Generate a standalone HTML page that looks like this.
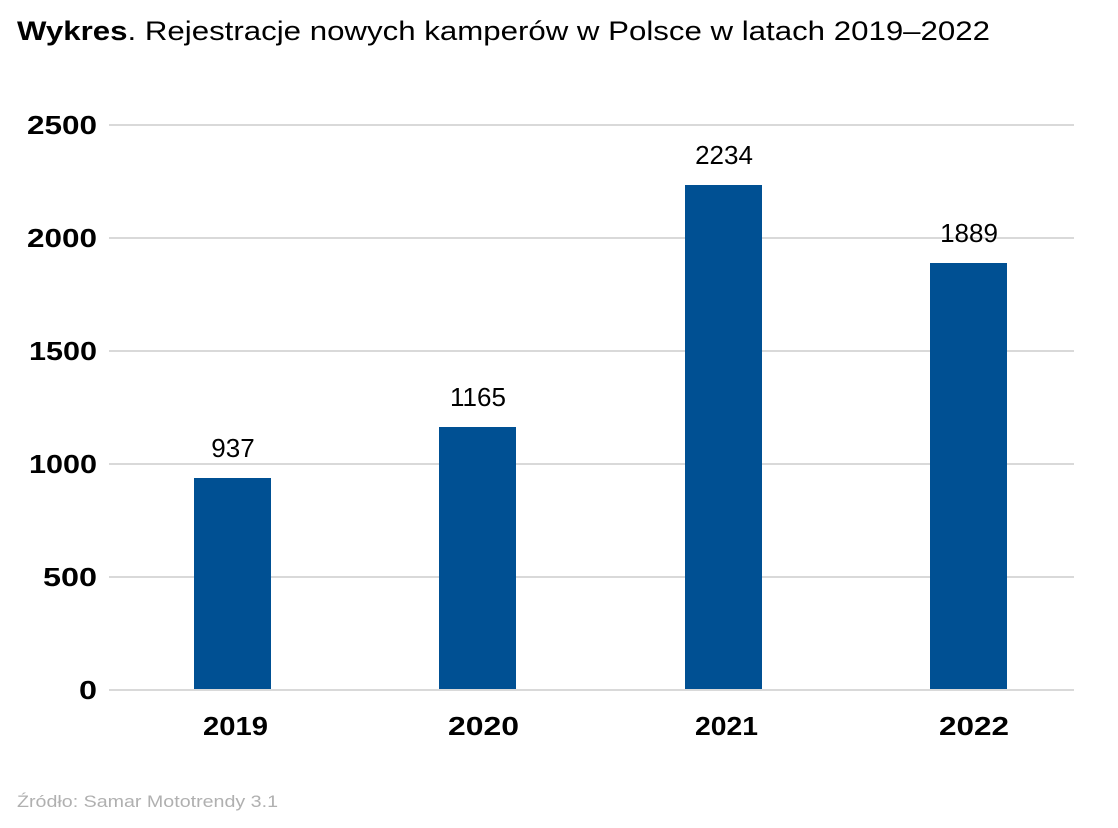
<!DOCTYPE html>
<html><head><meta charset="utf-8"><style>
body{margin:0;background:#fff;}
svg{display:block;}
text{font-family:"Liberation Sans",sans-serif;}
</style></head><body>
<svg width="1118" height="828" viewBox="0 0 1118 828">
<text x="17" y="40" font-size="27" fill="#000" textLength="973" lengthAdjust="spacingAndGlyphs"><tspan font-weight="bold">Wykres</tspan>.  Rejestracje nowych kamperów w Polsce w latach 2019–2022</text>
<g stroke="#d9d9d9" stroke-width="2">
<line x1="109" x2="1074" y1="125" y2="125"/>
<line x1="109" x2="1074" y1="238" y2="238"/>
<line x1="109" x2="1074" y1="351" y2="351"/>
<line x1="109" x2="1074" y1="464" y2="464"/>
<line x1="109" x2="1074" y1="577" y2="577"/>
<line x1="109" x2="1074" y1="690" y2="690"/>
</g>
<g font-size="26" font-weight="bold" fill="#000">
<text x="27" y="134" textLength="70" lengthAdjust="spacingAndGlyphs">2500</text>
<text x="27" y="247" textLength="70" lengthAdjust="spacingAndGlyphs">2000</text>
<text x="29" y="360" textLength="68" lengthAdjust="spacingAndGlyphs">1500</text>
<text x="29" y="473" textLength="68" lengthAdjust="spacingAndGlyphs">1000</text>
<text x="43" y="586" textLength="54" lengthAdjust="spacingAndGlyphs">500</text>
<text x="79" y="699" textLength="18" lengthAdjust="spacingAndGlyphs">0</text>
</g>
<g fill="#005093">
<rect x="194" y="478" width="77" height="211"/>
<rect x="439" y="427" width="77" height="262"/>
<rect x="685" y="185" width="77" height="504"/>
<rect x="930" y="263" width="77" height="426"/>
</g>
<g font-size="26" text-anchor="middle" fill="#000">
<text x="233" y="457">937</text>
<text x="478" y="406">1165</text>
<text x="724" y="164">2234</text>
<text x="969" y="242">1889</text>
</g>
<g font-size="26" font-weight="bold" fill="#000">
<text x="203" y="735" textLength="65" lengthAdjust="spacingAndGlyphs">2019</text>
<text x="448" y="735" textLength="71" lengthAdjust="spacingAndGlyphs">2020</text>
<text x="695" y="735" textLength="63" lengthAdjust="spacingAndGlyphs">2021</text>
<text x="939" y="735" textLength="70" lengthAdjust="spacingAndGlyphs">2022</text>
</g>
<text x="17" y="807" font-size="17" fill="#b0b0b0" textLength="261" lengthAdjust="spacingAndGlyphs">Źródło: Samar Mototrendy 3.1</text>
</svg>
</body></html>
